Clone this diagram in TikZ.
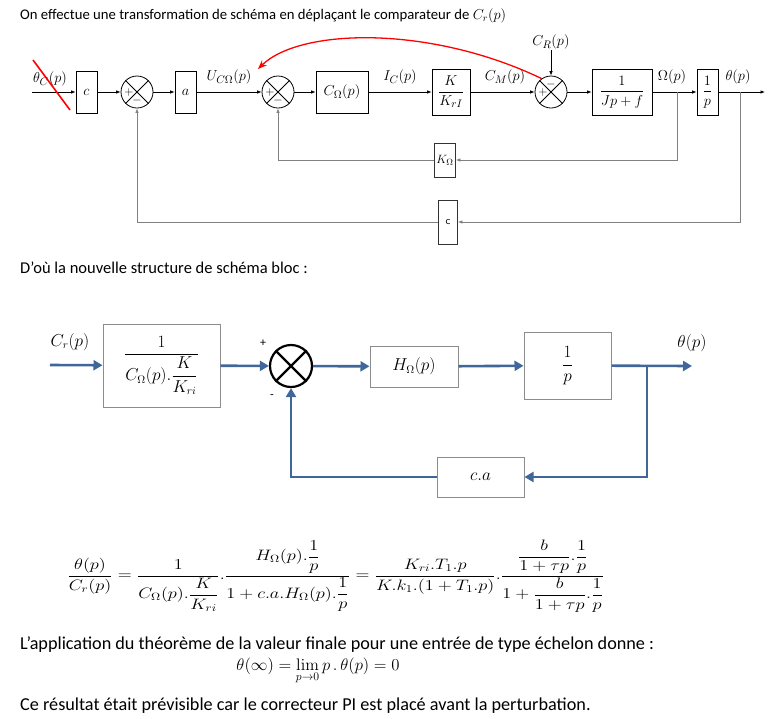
\documentclass[tikz,border=0pt]{standalone}
\usepackage{amsmath}
\usepackage{graphicx}
\usepackage[no-math]{fontspec}
\setmainfont{Carlito}
\usetikzlibrary{arrows.meta}

\definecolor{flow}{HTML}{41679A}
\definecolor{boxgray}{HTML}{8C8C8C}

\tikzset{
  blk/.style={draw, line width=0.8pt, inner sep=1pt, minimum height=42pt},
  sumt/.style={draw, circle, line width=0.8pt, minimum size=32pt, inner sep=0pt},
  sgn/.style={inner sep=0pt, font=\fontsize{12}{12}\selectfont},
  lbl/.style={inner sep=1pt},
  sig/.style={draw, line width=0.7pt, -{Latex[length=4.5pt,width=3.5pt]}},
  fb/.style={sig, draw=gray},
  bbox/.style={draw=boxgray, line width=1pt, fill=white, inner sep=1pt},
  bsum/.style={draw, circle, line width=2.2pt, minimum size=42pt, inner sep=0pt},
  bsig/.style={draw=flow, line width=2.6pt, -{Triangle[length=9pt,width=10pt]}},
  txt/.style={anchor=west, inner sep=0pt, font=\fontsize{16.5}{20}\selectfont},
}

\begin{document}
\begin{tikzpicture}[x=1pt, y=-1pt, font=\fontsize{15}{18}\selectfont]
  \useasboundingbox (0,0) rectangle (775,718);

  \node[txt, font=\fontsize{14.7}{18}\selectfont] (title) at (20,16) {On effectue une transformation de schéma en déplaçant le comparateur de $C_r(p)$};

  % schema initial
  \coordinate (in) at (32,92);
  \node[blk, minimum width=21pt] (c1) at (86.5,92) {$c$};
  \node[sumt] (s1) at (137,92) {};
  \node[blk, minimum width=21pt] (a1) at (185.5,92) {$a$};
  \node[sumt] (s2) at (278,92) {};
  \node[blk, minimum width=52pt] (cw) at (342,92) {$C_\Omega(p)$};
  \node[blk, minimum width=38pt, minimum height=46pt] (kk) at (451,92) {$\dfrac{K}{K_{rI}}$};
  \node[sumt] (s3) at (551,92) {};
  \node[blk, minimum width=60pt, minimum height=46pt] (jf) at (622,92) {$\dfrac{1}{Jp+f}$};
  \node[blk, minimum width=21pt, minimum height=46pt] (ip) at (707.5,92) {$\dfrac{1}{p}$};
  \coordinate (out) at (765,92);

  \foreach \s in {s1,s2,s3}
    \draw[line width=0.8pt] (\s.north west) -- (\s.south east) (\s.north east) -- (\s.south west);

  \node[sgn] at ([xshift=-8pt]s1.center) {$+$};
  \node[sgn] at ([yshift=-8pt]s1.center) {$-$};
  \node[sgn] at ([xshift=-8pt]s2.center) {$+$};
  \node[sgn] at ([yshift=-8pt]s2.center) {$-$};
  \node[sgn] at ([xshift=-8pt]s3.center) {$+$};
  \node[sgn] at ([yshift=8pt]s3.center) {$-$};

  \draw[sig] (in) -- (c1);
  \draw[sig] (c1) -- (s1);
  \draw[sig] (s1) -- (a1);
  \draw[sig] (a1) -- (s2);
  \draw[sig] (s2) -- (cw);
  \draw[sig] (cw) -- (kk);
  \draw[sig] (kk) -- (s3);
  \draw[sig] (s3) -- (jf);
  \draw[sig] (jf) -- (ip);
  \draw[sig] (ip) -- (out);

  \node[lbl] (thc) at (50,79) {$\theta_C(p)$};
  \node[lbl] (ucw) at (229,77) {$U_{C\Omega}(p)$};
  \node[lbl] (icp) at (400,77) {$I_C(p)$};
  \node[lbl] (cmp) at (505,77) {$C_M(p)$};
  \node[lbl] (omp) at (672,77) {$\Omega(p)$};
  \node[lbl] (thp) at (738,77) {$\theta(p)$};
  \node[lbl] (crp) at (551,42) {$C_R(p)$};
  \draw[sig] (crp) -- (s3);

  % retours
  \coordinate (bw) at (677,92);
  \coordinate (bt) at (740,92);
  \node[blk, minimum width=21pt, minimum height=34pt, draw=black!80] (kw) at (445,160) {\fontsize{13}{15}\selectfont$K_\Omega$};
  \node[blk, minimum width=19pt, minimum height=44pt, draw=black!80] (cc) at (448,222) {\fontsize{11}{13}\selectfont\sffamily c};
  \draw[fb] (bw) |- (kw);
  \draw[fb] (kw) -| (s2);
  \draw[fb] (bt) |- (cc);
  \draw[fb] (cc) -| (s1);

  % deplacement
  \coordinate (x1) at (33,60);
  \coordinate (x2) at (70,110);
  \draw[red, line width=1.6pt] (x1) -- (x2);
  \coordinate (tip) at (258,69);
  \draw[red, line width=1.3pt, -{Stealth[length=9pt,width=7pt]}] (s3.125) .. controls (430,25) and (300,28) .. (tip);

  \node[txt] (dou) at (20,268) {D’où la nouvelle structure de schéma bloc :};

  % nouveau schema
  \begin{scope}[font=\fontsize{16}{19}\selectfont]
    \coordinate (bin) at (50,365);
    \node[bbox, minimum width=117pt, minimum height=83pt] (b1) at (161.5,365.5) {$\dfrac{1}{C_\Omega(p).\dfrac{K}{K_{ri}}}$};
    \node[bsum] (bs) at (291,366) {};
    \node[bbox, minimum width=88pt, minimum height=41pt] (hw) at (414,366.5) {$H_\Omega(p)$};
    \node[bbox, minimum width=87pt, minimum height=67pt] (bp) at (567.5,365.5) {$\dfrac{1}{p}$};
    \node[bbox, minimum width=87pt, minimum height=40pt] (ca) at (480.5,477) {$c.a$};
    \coordinate (bout) at (692,366);
    \coordinate (br) at (647,366);

    \draw[line width=2.2pt] (bs.north west) -- (bs.south east) (bs.north east) -- (bs.south west);

    \draw[bsig] (bin) -- (b1);
    \draw[bsig] (b1) -- (bs);
    \draw[bsig] (bs) -- (hw);
    \draw[bsig] (hw) -- (bp);
    \draw[bsig] (bp) -- (bout);
    \draw[bsig] (br) |- (ca);
    \draw[bsig] (ca) -| (bs);

    \node[lbl] (crb) at (70,342) {$C_r(p)$};
    \node[lbl] (thb) at (692,343) {$\theta(p)$};
    \node[sgn] (pl) at (263,343) {+};
    \node[sgn] (mi) at (272,397) {-};
  \end{scope}

  % calcul
  \node[inner sep=0pt, font=\fontsize{14.4}{17}\selectfont] (eq) at (336,576)
    {\scalebox{1.27}[1.05]{$\dfrac{\theta(p)}{C_r(p)}=\dfrac{1}{C_\Omega(p).\dfrac{K}{K_{ri}}}.\dfrac{H_\Omega(p).\dfrac{1}{p}}{1+c.a.H_\Omega(p).\dfrac{1}{p}}=\dfrac{K_{ri}.T_1.p}{K.k_1.(1+T_1.p)}.\dfrac{\dfrac{b}{1+\tau p}.\dfrac{1}{p}}{1+\dfrac{b}{1+\tau p}.\dfrac{1}{p}}$}};

  \node[txt, font=\fontsize{18.2}{21}\selectfont] (app) at (20,645) {L’application du théorème de la valeur finale pour une entrée de type échelon donne :};
  \node[inner sep=0pt, font=\fontsize{14.4}{17}\selectfont] (lim) at (318,671) {\scalebox{1.16}{$\theta(\infty)=\lim\limits_{p\to0}p\,.\,\theta(p)=0$}};
  \node[txt, font=\fontsize{18.2}{21}\selectfont] (res) at (20,706) {Ce résultat était prévisible car le correcteur PI est placé avant la perturbation.};
\end{tikzpicture}
\end{document}
